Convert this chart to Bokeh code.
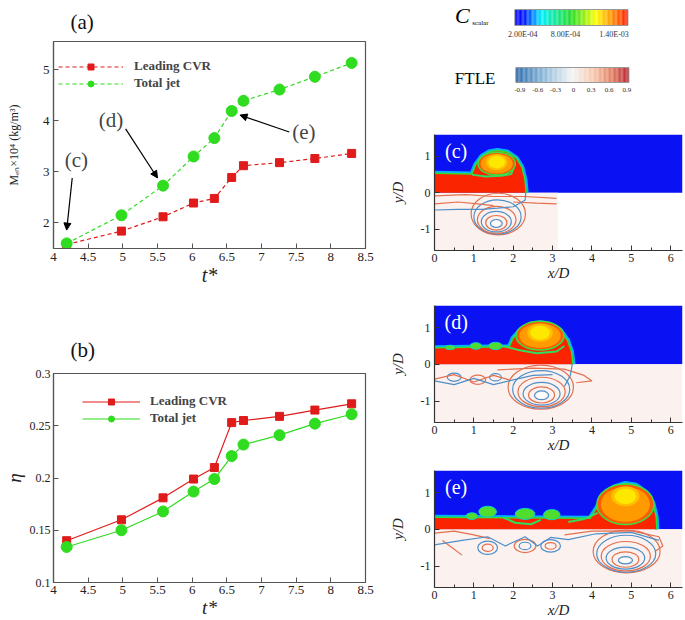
import numpy as np
from bokeh.plotting import figure
from bokeh.layouts import row, column
from bokeh.models import (Range1d, FixedTicker, Legend, LegendItem, Arrow, NormalHead,
                          Label, CustomJSTickFormatter, Title)
from bokeh.core.properties import value
from bokeh.embed import file_html
from bokeh.resources import INLINE

SERIF = "Liberation Serif"

# ------------------------------------------------------------------ data
T_STAR = [4.19, 4.98, 5.58, 6.02, 6.32, 6.57, 6.74, 7.26, 7.77, 8.30]
M_LEADING = [1.58, 1.84, 2.12, 2.39, 2.48, 2.89, 3.12, 3.18, 3.26, 3.36]
M_TOTAL = [1.60, 2.15, 2.73, 3.30, 3.66, 4.19, 4.39, 4.61, 4.86, 5.13]
ETA_LEADING = [0.140, 0.160, 0.181, 0.199, 0.210, 0.253, 0.255, 0.259, 0.265, 0.271]
ETA_TOTAL = [0.134, 0.150, 0.168, 0.187, 0.199, 0.221, 0.232, 0.241, 0.252, 0.261]
SERIES_NAMES = ["Leading CVR", "Total jet"]

X_TICKS = [4, 4.5, 5, 5.5, 6, 6.5, 7, 7.5, 8, 8.5]
X_LABELS = ["4", "4.5", "5", "5.5", "6", "6.5", "7", "7.5", "8", "8.5"]
A_Y_TICKS = [2, 3, 4, 5]
A_Y_LABELS = ["2", "3", "4", "5"]
B_Y_TICKS = [0.1, 0.15, 0.2, 0.25, 0.3]
B_Y_LABELS = ["0.1", "0.15", "0.2", "0.25", "0.3"]

# annotations of panel (a): text, text position, arrow start, arrow end
ANN_TEXT = ["(c)", "(d)", "(e)"]
ANN_X = [4.33, 4.83, 7.61]
ANN_Y = [3.24, 4.01, 3.78]
ARR_X0 = [4.27, 5.04, 7.40]
ARR_Y0 = [2.88, 3.84, 3.78]
ARR_X1 = [4.19, 5.50, 6.69]
ARR_Y1 = [1.86, 2.88, 4.11]

# colour bars
CS_TICKS = ["2.00E-04", "8.00E-04", "1.40E-03"]
FTLE_TICKS = ["-0.9", "-0.6", "-0.3", "0", "0.3", "0.6", "0.9"]

# flow-field panels (x/D, y/D)
PX_TICKS = [0, 1, 2, 3, 4, 5, 6]
PY_TICKS = [-1, 0, 1]
PANEL_TAGS = ["(c)", "(d)", "(e)"]
FTLE_XMAX = [3.13, 6.3, 6.3]

JET_X = [
    [0.0, 0.0, 0.95, 1.05, 1.2, 1.4, 1.6, 1.85, 2.08, 2.22, 2.3, 2.33],
    [0.0, 0.0, 1.9, 2.0, 2.2, 2.45, 2.7, 2.95, 3.2, 3.38, 3.48, 3.52],
    [0.0, 0.0, 3.95, 4.1, 4.3, 4.55, 4.85, 5.12, 5.38, 5.55, 5.63, 5.65],
]
JET_Y = [
    [0.0, 0.54, 0.52, 0.78, 1.0, 1.13, 1.16, 1.12, 0.95, 0.7, 0.35, 0.0],
    [0.0, 0.45, 0.48, 0.72, 0.95, 1.1, 1.13, 1.08, 0.92, 0.65, 0.35, 0.0],
    [0.0, 0.33, 0.3, 0.55, 0.92, 1.15, 1.25, 1.2, 1.0, 0.7, 0.35, 0.0],
]
HEAD_X = [1.58, 2.68, 4.85]
HEAD_Y = [0.80, 0.78, 0.68]
HEAD_W = [0.95, 1.22, 1.45]
HEAD_H = [0.62, 0.78, 1.10]
CORE_Y = [0.84, 0.86, 0.90]
CORE_W = [0.42, 0.50, 0.55]
CORE_H = [0.34, 0.38, 0.42]

BLOB_X = [[], [0.4, 1.05, 1.55], [0.95, 1.35, 2.3, 2.98]]
BLOB_Y = [[], [0.46, 0.5, 0.5], [0.36, 0.48, 0.42, 0.4]]
BLOB_W = [[], [0.25, 0.3, 0.35], [0.3, 0.45, 0.5, 0.42]]
BLOB_H = [[], [0.12, 0.18, 0.2], [0.18, 0.3, 0.3, 0.28]]

CURL_XS = [
    [[0.95, 1.3, 1.7, 1.95, 2.02]],
    [[1.75, 2.1, 2.6, 3.1, 3.3]],
    [[1.75, 2.05, 2.45, 2.7], [3.4, 3.8, 4.15]],
]
CURL_YS = [
    [[0.5, 0.45, 0.47, 0.52, 0.7]],
    [[0.5, 0.4, 0.3, 0.35, 0.5]],
    [[0.32, 0.18, 0.14, 0.26], [0.2, 0.28, 0.45]],
]

RING_X = [[1.62, 1.6, 1.58, 1.57, 1.57, 1.57],
          [2.7, 2.71, 2.72, 2.72, 2.72, 2.72],
          [4.88, 4.87, 4.86, 4.85, 4.85, 4.85]]
RING_Y = [[-0.58, -0.66, -0.74, -0.79, -0.82, -0.84],
          [-0.62, -0.68, -0.75, -0.8, -0.83, -0.84],
          [-0.6, -0.66, -0.73, -0.78, -0.82, -0.84]]
RING_W = [[1.38, 1.2, 0.98, 0.76, 0.54, 0.3],
          [1.66, 1.45, 1.2, 0.94, 0.66, 0.36],
          [1.7, 1.5, 1.25, 0.98, 0.68, 0.36]]
RING_H = [[1.14, 0.94, 0.74, 0.56, 0.4, 0.22],
          [1.2, 1.02, 0.8, 0.62, 0.44, 0.24],
          [1.16, 1.0, 0.8, 0.6, 0.42, 0.2]]

LOOP_X = [[], [0.5, 1.1, 1.55], [1.35, 2.3, 2.95, 1.35, 2.3, 2.95]]
LOOP_Y = [[], [-0.35, -0.42, -0.35], [-0.5, -0.45, -0.45, -0.5, -0.45, -0.45]]
LOOP_W = [[], [0.35, 0.4, 0.3], [0.5, 0.55, 0.5, 0.28, 0.3, 0.28]]
LOOP_H = [[], [0.22, 0.25, 0.2], [0.36, 0.36, 0.34, 0.2, 0.2, 0.18]]

RED_XS = [
    [[0, 0.8, 1.5, 2.3, 3.1], [0, 0.6, 1.1, 1.5], [2.0, 2.6, 3.1]],
    [[0, 0.5, 1.0, 1.5, 1.9], [1.6, 2.5, 3.3, 3.8, 4.0, 3.6]],
    [[0, 0.5, 1.0, 1.4], [0.2, 0.45, 0.7], [3.3, 4.0, 5.0, 5.7, 5.8, 5.6]],
]
RED_YS = [
    [[-0.08, -0.05, -0.1, -0.1, -0.15], [-0.3, -0.25, -0.3, -0.35], [-0.25, -0.28, -0.3]],
    [[-0.4, -0.28, -0.48, -0.3, -0.42], [-0.15, -0.1, -0.13, -0.3, -0.45, -0.5]],
    [[-0.1, -0.05, -0.15, -0.25], [-0.3, -0.5, -0.7], [-0.15, -0.05, -0.04, -0.2, -0.45, -0.6]],
]
BLUE_XS = [
    [[0, 0.6, 1.2, 1.6, 2.0, 2.3, 2.32]],
    [[0, 0.5, 1.0, 1.5, 2.0, 2.5, 3.0], [3.5, 3.45, 3.3]],
    [[0, 0.7, 1.35, 1.8, 2.3, 2.62, 2.95, 3.4, 4.1, 5.0, 5.7]],
]
BLUE_YS = [
    [[-0.47, -0.45, -0.45, -0.42, -0.38, -0.2, 0.0]],
    [[-0.45, -0.55, -0.38, -0.55, -0.42, -0.3, -0.28], [0.0, -0.3, -0.6]],
    [[-0.42, -0.3, -0.2, -0.45, -0.2, -0.45, -0.22, -0.28, -0.12, -0.08, -0.3]],
]

# ------------------------------------------------------------------ styles
RED = "#e01b1b"
GREEN = "#2fdc1f"
FIELD_BLUE = "#0a12f4"
JET_RED = "#fa2400"
FTLE_BG = "#fbf1ee"
FTLE_RED = "#e4704f"
FTLE_BLUE = "#4f8fc8"


def interp_palette(stops, n):
    pos = np.array([s[0] for s in stops])
    rgb = np.array([[int(c[1:3], 16), int(c[3:5], 16), int(c[5:7], 16)] for _, c in stops], float)
    out = []
    for t in np.linspace(0, 1, n):
        r, g, b = (np.interp(t, pos, rgb[:, k]) for k in range(3))
        out.append("#%02x%02x%02x" % (int(round(r)), int(round(g)), int(round(b))))
    return out


JET_STOPS = [(0.0, "#0000ff"), (0.08, "#0018ff"), (0.23, "#00f0ff"), (0.5, "#22dd22"),
             (0.72, "#ffff00"), (0.86, "#ff9000"), (1.0, "#ff1a00")]
RDBU_STOPS = [(0.0, "#2a6aad"), (0.25, "#8fbbd9"), (0.5, "#f4f4f4"), (0.7, "#f7c4a8"),
              (0.86, "#df7a60"), (1.0, "#b8202c")]


def tick_formatter(tks, lbls):
    return CustomJSTickFormatter(
        args=dict(tk=tks, lb=lbls),
        code="const i = tk.findIndex(t => Math.abs(t - tick) < 1e-9); return i >= 0 ? lb[i] : '';")


def style(p, tick_size, color="#555555"):
    for ax in p.axis:
        ax.major_label_text_font = SERIF
        ax.major_label_text_font_size = tick_size
        ax.major_label_text_color = "#222222"
        ax.axis_line_color = color
        ax.axis_line_width = 1.2
        ax.major_tick_in = 5
        ax.major_tick_out = 0
        ax.minor_tick_in = 3
        ax.minor_tick_out = 0
        ax.major_tick_line_color = color
        ax.minor_tick_line_color = color
        ax.major_label_standoff = 4
        ax.axis_label_text_font = SERIF
        ax.axis_label_text_color = "#222222"
        ax.axis_label_text_font_style = "italic"
    p.grid.visible = False
    p.outline_line_color = color
    p.outline_line_width = 1.2


def panel_title(text, offset, standoff):
    return Title(text=text, align="left", offset=offset, standoff=standoff, text_font=SERIF,
                 text_font_size="21px", text_font_style="normal", text_color="#111111")


# ------------------------------------------------------------------ (a)
LB, RB = 52, 21
FH_A, FH_B = 211, 210
pa = figure(width=386, height=305, x_range=Range1d(4, 8.5), y_range=Range1d(1.5, 5.55),
            min_border_left=LB, min_border_right=RB, min_border_top=38, min_border_bottom=57,
            output_backend="svg", toolbar_location=None)
pa.title = panel_title("(a)", 17, 15)
style(pa, "13px")
pa.xaxis.ticker = FixedTicker(ticks=X_TICKS, minor_ticks=[])
pa.xaxis.formatter = tick_formatter(X_TICKS, X_LABELS)
pa.yaxis.ticker = FixedTicker(ticks=A_Y_TICKS, minor_ticks=[])
pa.yaxis.formatter = tick_formatter(A_Y_TICKS, A_Y_LABELS)
pa.xaxis.axis_label = "t*"
pa.xaxis.axis_label_text_font_size = "20px"
pa.xaxis.axis_label_standoff = 0
pa.yaxis.axis_label = "Mₑₙ×10⁴ (kg/m³)"
pa.yaxis.axis_label_text_font_size = "12px"
pa.yaxis.axis_label_text_font_style = "normal"
pa.yaxis.axis_label_standoff = 19

a_l1 = pa.line(T_STAR, M_LEADING, line_color=RED, line_width=1.2, line_dash="4 3")
a_m1 = pa.scatter(T_STAR, M_LEADING, marker="square", size=8, fill_color=RED, line_color=RED)
a_l2 = pa.line(T_STAR, M_TOTAL, line_color=GREEN, line_width=1.2, line_dash="4 3")
a_m2 = pa.scatter(T_STAR, M_TOTAL, marker="circle", size=11, fill_color=GREEN, line_color=GREEN)
leg_a = Legend(items=[LegendItem(label=SERIES_NAMES[0], renderers=[a_l1, a_m1]),
                      LegendItem(label=SERIES_NAMES[1], renderers=[a_l2, a_m2])],
               location=(5, FH_A - 54), glyph_width=65, glyph_height=15, label_height=15,
               spacing=1, padding=0, margin=0, border_line_alpha=0, background_fill_alpha=0,
               label_text_font=SERIF, label_text_font_style="bold", label_text_font_size="13px",
               label_standoff=11)
pa.add_layout(leg_a)
for i in range(len(ANN_TEXT)):
    pa.add_layout(Arrow(end=NormalHead(size=7, fill_color="black", line_color="black"),
                        x_start=ARR_X0[i], y_start=ARR_Y0[i], x_end=ARR_X1[i], y_end=ARR_Y1[i],
                        line_color="black", line_width=1.2))
    pa.add_layout(Label(x=ANN_X[i], y=ANN_Y[i], text=ANN_TEXT[i], text_font=SERIF,
                        text_font_size="21px", text_align="center", text_baseline="middle"))

# ------------------------------------------------------------------ (b)
pb = figure(width=386, height=315, x_range=Range1d(4, 8.5), y_range=Range1d(0.1, 0.3),
            min_border_left=LB, min_border_right=RB, min_border_top=68, min_border_bottom=37,
            output_backend="svg", toolbar_location=None)
pb.title = panel_title("(b)", 17, 24)
style(pb, "13px")
pb.yaxis.major_label_text_font_size = "12px"
pb.yaxis.major_label_standoff = 3
pb.xaxis.ticker = FixedTicker(ticks=X_TICKS, minor_ticks=[])
pb.xaxis.formatter = tick_formatter(X_TICKS, X_LABELS)
pb.yaxis.ticker = FixedTicker(ticks=B_Y_TICKS, minor_ticks=[])
pb.yaxis.formatter = tick_formatter(B_Y_TICKS, B_Y_LABELS)
pb.xaxis.axis_label = "t*"
pb.xaxis.axis_label_text_font_size = "19px"
pb.xaxis.axis_label_standoff = 0
pb.xaxis.major_label_standoff = 3
pb.yaxis.axis_label = "η"
pb.yaxis.axis_label_text_font_size = "19px"
pb.yaxis.axis_label_standoff = 2

b_l1 = pb.line(T_STAR, ETA_LEADING, line_color=RED, line_width=1.2)
b_m1 = pb.scatter(T_STAR, ETA_LEADING, marker="square", size=8, fill_color=RED, line_color=RED)
b_l2 = pb.line(T_STAR, ETA_TOTAL, line_color=GREEN, line_width=1.2)
b_m2 = pb.scatter(T_STAR, ETA_TOTAL, marker="circle", size=11, fill_color=GREEN, line_color=GREEN)
leg_b = Legend(items=[LegendItem(label=SERIES_NAMES[0], renderers=[b_l1, b_m1]),
                      LegendItem(label=SERIES_NAMES[1], renderers=[b_l2, b_m2])],
               location=(29, FH_B - 54), glyph_width=58, glyph_height=15, label_height=15,
               spacing=1, padding=0, margin=0, border_line_alpha=0, background_fill_alpha=0,
               label_text_font=SERIF, label_text_font_style="bold", label_text_font_size="13px",
               label_standoff=10)
pb.add_layout(leg_b)

# ------------------------------------------------------------------ colour bars
RW, RLB, RRB = 297, 46, 1
pcb = figure(width=RW, height=118, x_range=Range1d(RLB, RW - RRB), y_range=Range1d(118, 0),
             x_axis_type=None, y_axis_type=None, min_border_left=RLB, min_border_right=RRB,
             min_border_top=0, min_border_bottom=0,
             output_backend="svg", toolbar_location=None)
pcb.grid.visible = False
pcb.outline_line_color = None


def colour_bar(p, x0, x1, y0, y1, stops, labels, label_xs, label_y, font):
    n = 90
    edges = np.linspace(x0, x1, n + 1)
    p.quad(left=edges[:-1], right=edges[1:], bottom=[y1] * n, top=[y0] * n,
           fill_color=interp_palette(stops, n), line_color=None)
    p.quad(left=[x0], right=[x1], bottom=[y1], top=[y0], fill_color=None,
           line_color="#999999", line_width=1)
    p.text(x=list(label_xs), y=[label_y] * len(labels), text=labels, text_font=value(SERIF),
           text_font_size=value(font), text_align="center", text_baseline="middle",
           text_color="#333333")


colour_bar(pcb, 127, 241, 9, 25, JET_STOPS, CS_TICKS, [135, 178, 227], 34, "8px")
colour_bar(pcb, 128, 242, 67, 82, RDBU_STOPS, FTLE_TICKS, np.linspace(132, 240, 7), 89, "7px")
pcb.text(x=[74], y=[15], text=["C"], text_font=value(SERIF), text_font_size=value("22px"),
         text_font_style="italic", text_align="center", text_baseline="middle")
pcb.text(x=[84], y=[22], text=["scalar"], text_font=value(SERIF), text_font_size=value("7px"),
         text_align="left", text_baseline="middle")
pcb.text(x=[87], y=[78], text=["FTLE"], text_font=value(SERIF), text_font_size=value("17px"),
         text_align="center", text_baseline="middle")


# ------------------------------------------------------------------ panels
def make_panel(k, h, top, bottom):
    p = figure(width=RW, height=h, x_range=Range1d(0, 6.3), y_range=Range1d(-1.58, 1.6),
               min_border_left=RLB, min_border_right=RRB, min_border_top=top,
               min_border_bottom=bottom, output_backend="svg", toolbar_location=None)
    style(p, "12px", color="#333333")
    p.xaxis.ticker = FixedTicker(ticks=PX_TICKS, minor_ticks=[0.5, 1.5, 2.5, 3.5, 4.5, 5.5])
    p.yaxis.ticker = FixedTicker(ticks=PY_TICKS, minor_ticks=[])
    p.xaxis.formatter = tick_formatter(PX_TICKS, [str(t) for t in PX_TICKS])
    p.yaxis.formatter = tick_formatter(PY_TICKS, [str(t) for t in PY_TICKS])
    p.xaxis.axis_label = "x/D"
    p.yaxis.axis_label = "y/D"
    p.xaxis.axis_label_text_font_size = "15px"
    p.yaxis.axis_label_text_font_size = "15px"
    p.xaxis.axis_label_standoff = 0
    p.xaxis.major_label_standoff = 3
    p.yaxis.axis_label_standoff = 12
    p.outline_line_color = None

    # scalar concentration (upper half)
    p.quad(left=[0], right=[6.3], bottom=[0], top=[1.6], fill_color=FIELD_BLUE, line_color=None)
    # FTLE (lower half)
    p.quad(left=[0], right=[FTLE_XMAX[k]], bottom=[-1.58], top=[0], fill_color=FTLE_BG,
           line_color=None)

    jx, jy = JET_X[k], JET_Y[k]
    p.line(jx[1:], jy[1:], line_color="#00d8ff", line_width=5, line_alpha=0.8)
    p.patch(jx, jy, fill_color=JET_RED, line_color=None)
    p.line(jx[1:], jy[1:], line_color="#30dd30", line_width=1.5)
    p.multi_line(CURL_XS[k], CURL_YS[k], line_color="#30dd60", line_width=2)

    p.ellipse(x=[HEAD_X[k]], y=[HEAD_Y[k]], width=[HEAD_W[k]], height=[HEAD_H[k]],
              fill_color="#ff5a00", line_color="#40dd40", line_width=1.5)
    p.ellipse(x=[HEAD_X[k]], y=[HEAD_Y[k]], width=[HEAD_W[k] * 0.86], height=[HEAD_H[k] * 0.86],
              fill_color="#ff9a00", line_color=None)
    p.ellipse(x=[HEAD_X[k]], y=[CORE_Y[k]], width=[CORE_W[k] * 1.3], height=[CORE_H[k] * 1.3],
              fill_color="#ffc000", line_color=None)
    p.ellipse(x=[HEAD_X[k]], y=[CORE_Y[k]], width=[CORE_W[k]], height=[CORE_H[k]],
              fill_color="#ffe800", line_color=None)

    if BLOB_X[k]:
        p.ellipse(x=BLOB_X[k], y=BLOB_Y[k], width=BLOB_W[k], height=BLOB_H[k],
                  fill_color="#50dd30", line_color="#10d0c0", line_width=1)

    cols = [FTLE_RED, FTLE_BLUE, FTLE_RED, FTLE_BLUE, FTLE_RED, FTLE_BLUE]
    p.ellipse(x=RING_X[k], y=RING_Y[k], width=RING_W[k], height=RING_H[k], fill_color=None,
              line_color=cols, line_width=1.2)
    if LOOP_X[k]:
        lc = [FTLE_BLUE if i % 2 == 0 else FTLE_RED for i in range(len(LOOP_X[k]))]
        p.ellipse(x=LOOP_X[k], y=LOOP_Y[k], width=LOOP_W[k], height=LOOP_H[k], fill_color=None,
                  line_color=lc, line_width=1.2)
    p.multi_line(RED_XS[k], RED_YS[k], line_color=FTLE_RED, line_width=1.2)
    p.multi_line(BLUE_XS[k], BLUE_YS[k], line_color=FTLE_BLUE, line_width=1.2)
    p.ellipse(x=[RING_X[k][-1]], y=[RING_Y[k][-1]], width=[RING_W[k][-1] * 0.6],
              height=[RING_H[k][-1] * 0.6], fill_color="#ffffff", line_color=None)

    p.add_layout(Label(x=0.55, y=1.15, text=PANEL_TAGS[k], text_font=SERIF, text_font_size="20px",
                       text_color="white", text_align="center", text_baseline="middle"))
    return p


p_c = make_panel(0, 170, 16, 38)
p_d = make_panel(1, 167, 17, 33)
p_e = make_panel(2, 165, 15, 33)

layout = row(column(pa, pb), column(pcb, p_c, p_d, p_e))
open("out.html", "w").write(file_html(layout, INLINE))
